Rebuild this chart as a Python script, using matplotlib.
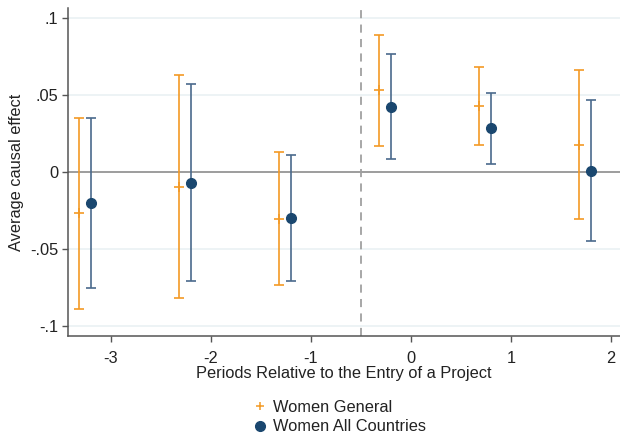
import matplotlib
matplotlib.use("Agg")
import matplotlib.pyplot as plt
from matplotlib.lines import Line2D
import numpy as np

plt.rcParams['font.family'] = ['Liberation Sans', 'DejaVu Sans']
plt.rcParams['axes.unicode_minus'] = False

periods = [-3, -2, -1, 0, 1, 2]
# Women General (orange)
gen_est = [-0.0268, -0.0095, -0.0303, 0.0530, 0.0429, 0.0177]
gen_lo = [-0.0888, -0.0820, -0.0736, 0.0171, 0.0173, -0.0307]
gen_hi = [0.0349, 0.0632, 0.0132, 0.0890, 0.0684, 0.0662]
# Women All Countries (navy)
all_est = [-0.0199, -0.0071, -0.0299, 0.0422, 0.0286, 0.0006]
all_lo = [-0.0751, -0.0710, -0.0706, 0.0082, 0.0054, -0.0448]
all_hi = [0.0350, 0.0569, 0.0110, 0.0764, 0.0515, 0.0468]

yticks = [-0.1, -0.05, 0, 0.05, 0.1]
ytick_labels = ['-.1', '-.05', '0', '.05', '.1']
xticks = [-3, -2, -1, 0, 1, 2]

orange = '#f39a25'
navy = '#1a476f'
navy_line = '#4a6a8c'
fs = 11.8

fig = plt.figure(figsize=(6.2, 4.36), dpi=100)
ax = fig.add_axes([0.1097, 0.2294, 0.89, 0.7523])

p = np.array(periods, dtype=float)
ge = np.array(gen_est); ae = np.array(all_est)
gerr = [ge - np.array(gen_lo), np.array(gen_hi) - ge]
aerr = [ae - np.array(all_lo), np.array(all_hi) - ae]

for yv in [-0.1, -0.05, 0.05, 0.1]:
    ax.axhline(yv, color='#eaf1f3', lw=1.2, zorder=0)
ax.axhline(0, color='#8c8c8c', lw=1.2, zorder=1)
ax.axvline(-0.5, color='#a0a0a0', lw=1.3, ls=(0, (4.5, 3.5)), zorder=1)

ax.errorbar(p - 0.32, ge, yerr=gerr, fmt='+', color=orange, ecolor=orange,
            elinewidth=1.2, capsize=3.5, capthick=1.2, markersize=6.5, mew=1.2, zorder=3)
ax.errorbar(p - 0.2, ae, yerr=aerr, fmt='o', color=navy, ecolor=navy_line,
            elinewidth=1.2, capsize=3.5, capthick=1.2, markersize=7, zorder=3)

ax.set_xlim(-3.43, 2.09)
ax.set_ylim(-0.1065, 0.1065)
ax.set_yticks(yticks)
ax.set_yticklabels(ytick_labels)
ax.set_xticks(xticks)
ax.tick_params(axis='both', direction='out', length=4, width=1, color='#555555',
               labelsize=fs, labelcolor='#222222')
ax.tick_params(axis='y', pad=3)
ax.tick_params(axis='x', pad=7)
for s in ['top', 'right']:
    ax.spines[s].set_visible(False)
for s in ['left', 'bottom']:
    ax.spines[s].set_color('#555555')
    ax.spines[s].set_linewidth(1.1)

ax.set_ylabel('Average causal effect', fontsize=fs, color='#222222', labelpad=4)
ax.set_xlabel('Periods Relative to the Entry of a Project', fontsize=fs,
              color='#222222', labelpad=0)

handles = [Line2D([], [], ls='none', marker='+', color=orange, markersize=6, mew=1.1),
           Line2D([], [], ls='none', marker='o', color=navy, markersize=7)]
fig.legend(handles, ['Women General', 'Women All Countries'], loc='upper center',
           bbox_to_anchor=(0.546, 0.11), frameon=False, fontsize=fs,
           handletextpad=0.3, labelspacing=0.3, handlelength=1.0,
           borderpad=0.2, labelcolor='#222222')

fig.savefig('out.png', dpi=100)
